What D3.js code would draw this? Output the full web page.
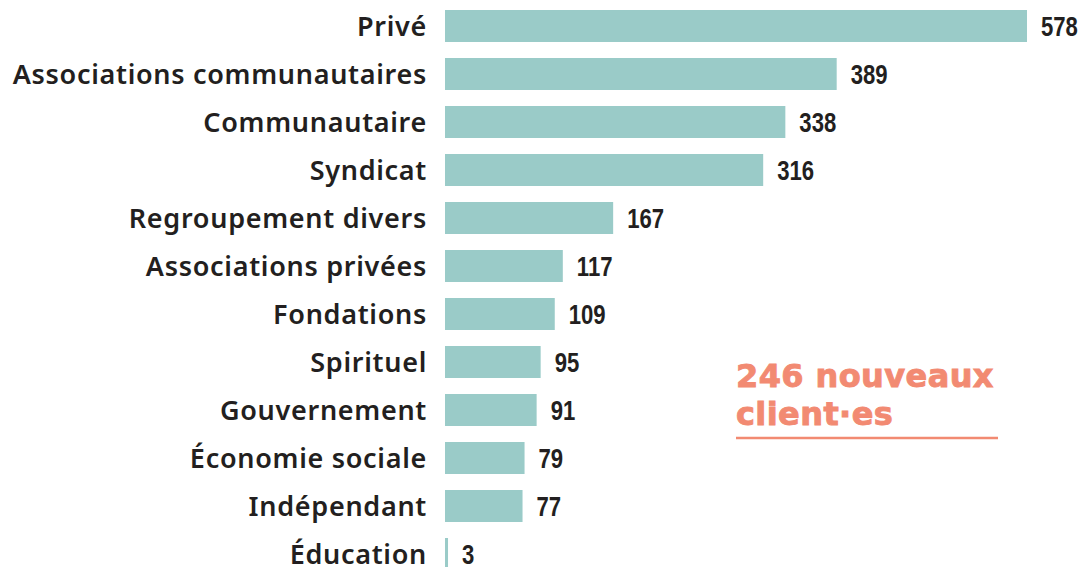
<!DOCTYPE html>
<html>
<head>
<meta charset="utf-8">
<script src="https://cdn.jsdelivr.net/npm/d3@7"></script>
<style>
  body { margin: 0; background: #fff; }
  svg { display: block; }
</style>
</head>
<body>
<div id="chart"></div>
<script>
// Data
const categories = ["Privé", "Associations communautaires", "Communautaire", "Syndicat",
    "Regroupement divers", "Associations privées", "Fondations", "Spirituel",
    "Gouvernement", "Économie sociale", "Indépendant", "Éducation"];
const values = [578, 389, 338, 316, 167, 117, 109, 95, 91, 79, 77, 3];
const noteLines = ["246 nouveaux", "client·es"];

const data = categories.map((c, i) => ({ category: c, value: values[i] }));

// Dimensions
const width = 1081, height = 567;
const margin = { top: 10, left: 445 };

const svg = d3.select("#chart")
    .append("svg")
    .attr("width", width)
    .attr("height", height);

// Scales
const x = d3.scaleLinear()
    .domain([0, 578])
    .range([margin.left, 1027]);

// step 48, bar 32
const y = d3.scaleBand()
    .domain(categories)
    .range([margin.top, margin.top + 48 * (categories.length - 1 / 3)])
    .paddingInner(1 / 3)
    .paddingOuter(0);

// Bars
svg.selectAll(".bar")
    .data(data)
    .enter()
    .append("rect")
    .attr("class", "bar")
    .attr("x", x(0))
    .attr("y", d => y(d.category))
    .attr("width", d => x(d.value) - x(0))
    .attr("height", y.bandwidth())
    .attr("fill", "#9acbc8");

// Category labels
svg.selectAll(".cat")
    .data(data)
    .enter()
    .append("text")
    .attr("class", "cat")
    .attr("x", 427)
    .attr("y", d => y(d.category) + y.bandwidth() / 2)
    .attr("dy", "0.36em")
    .attr("text-anchor", "end")
    .style("font-family", "'Noto Sans', sans-serif")
    .style("font-weight", 600)
    .style("font-size", "27px")
    .style("letter-spacing", "0.7px")
    .style("fill", "#231f20")
    .text(d => d.category);

// Value labels (condensed look: squeeze horizontally)
const squeeze = 0.82;
svg.selectAll(".val")
    .data(data)
    .enter()
    .append("text")
    .attr("class", "val")
    .attr("transform", d =>
        `translate(${x(d.value) + 14},${y(d.category) + y.bandwidth() / 2}) scale(${squeeze},1)`)
    .attr("dy", "0.36em")
    .style("font-family", "'Liberation Sans', Arial, sans-serif")
    .style("font-weight", 700)
    .style("font-size", "27px")
    .style("fill", "#231f20")
    .text(d => d.value);

// Annotation
const note = svg.append("g").attr("transform", "translate(736,0)");
note.selectAll("text")
    .data(noteLines)
    .enter()
    .append("text")
    .attr("x", 0)
    .attr("y", (d, i) => 387 + i * 38)
    .style("font-family", "'DejaVu Sans', sans-serif")
    .style("font-weight", 700)
    .style("font-size", "32px")
    .style("letter-spacing", "0.4px")
    .style("fill", "#f28a72")
    .style("stroke", "#f28a72")
    .style("stroke-width", 0.9)
    .text(d => d);

note.append("line")
    .attr("x1", 0)
    .attr("x2", 262)
    .attr("y1", 438)
    .attr("y2", 438)
    .attr("stroke", "#f28a72")
    .attr("stroke-width", 2.5);
</script>
</body>
</html>
